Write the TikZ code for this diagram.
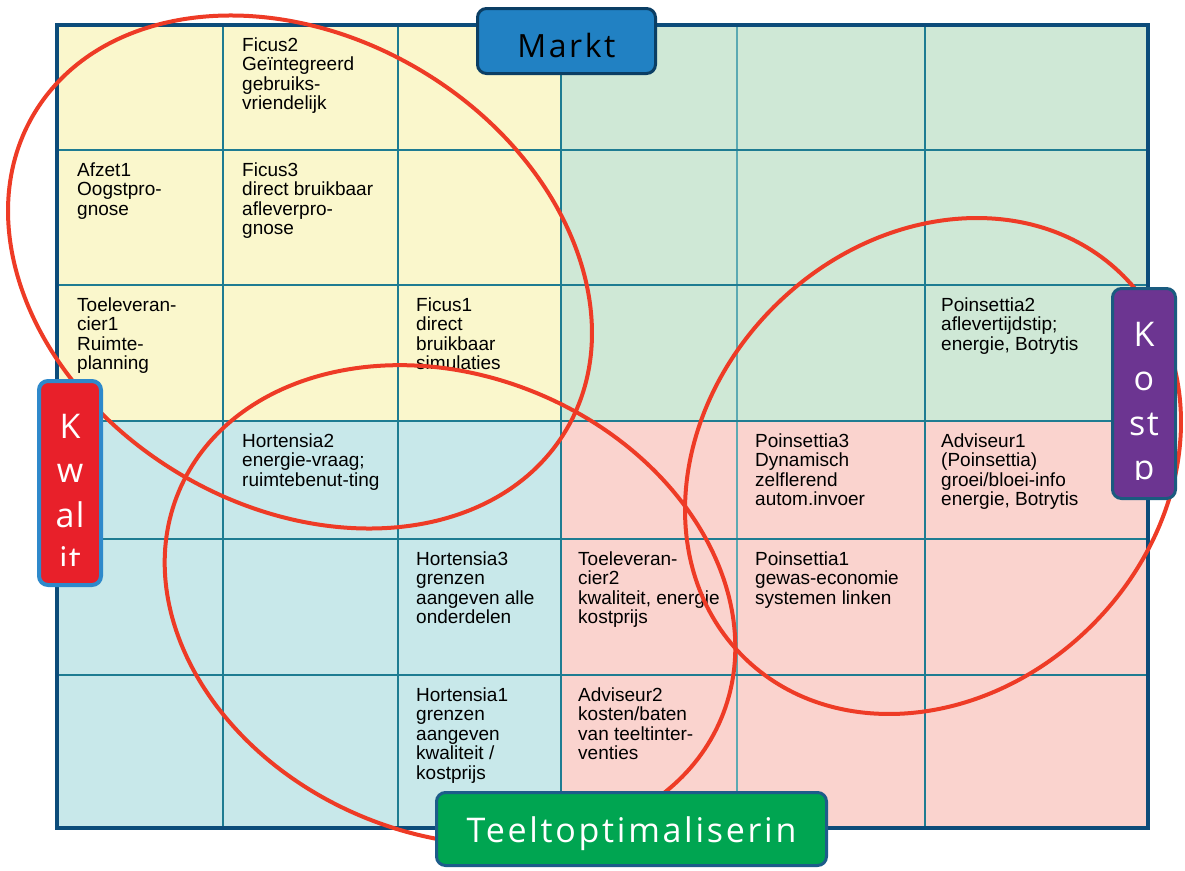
\documentclass[tikz,border=0pt]{standalone}
\usepackage{fontspec}
\setmainfont{Liberation Sans}
\newfontfamily\labelfont[LetterSpace=8]{Open Sans}
\newfontfamily\vfont[LetterSpace=4]{Open Sans}
\definecolor{cyel}{HTML}{FAF7CC}
\definecolor{cgrn}{HTML}{CFE8D6}
\definecolor{cblu}{HTML}{C8E8EA}
\definecolor{cpnk}{HTML}{FAD3CE}
\definecolor{gridteal}{HTML}{1E7C92}
\definecolor{gridlight}{HTML}{5BA9B2}
\definecolor{frameblue}{HTML}{0C4C7A}
\definecolor{ringred}{HTML}{EE3B26}
\definecolor{marktblue}{HTML}{2181C3}
\definecolor{marktedge}{HTML}{0B3E64}
\definecolor{kwalred}{HTML}{E8202A}
\definecolor{kwaledge}{HTML}{2E89CB}
\definecolor{kostpurple}{HTML}{6C3591}
\definecolor{kostedge}{HTML}{1A5B7F}
\definecolor{teeltgreen}{HTML}{00A551}
\definecolor{teeltedge}{HTML}{1D5C8A}
\newcommand\celltext[1]{\parbox[t]{230pt}{\raggedright\fontsize{19}{19.5}\selectfont #1}}
\newcommand\vcolumn[1]{\parbox[t]{62pt}{\centering\vfont\fontsize{34}{44.5}\selectfont #1}}
\tikzset{
  cellbox/.style={anchor=base west, inner sep=0pt, font=\fontsize{19}{19.5}\selectfont, text=black},
  gridline/.style={draw=gridteal, line width=2.5pt},
  ring/.style={draw=ringred, line width=4pt},
  tagbox/.style={rounded corners=9pt, line width=3pt, inner sep=0pt},
  vtext/.style={anchor=base, inner sep=0pt, text=white}
}
\begin{document}
\begin{tikzpicture}[x=1pt,y=-1pt]
\useasboundingbox (0,0) rectangle (1185,870);
\fill[white] (0,0) rectangle (1185,870);
% quadrant fills
\fill[cyel] (57,25) rectangle (561,421);
\fill[cgrn] (561,25) rectangle (1148,421);
\fill[cblu] (57,421) rectangle (561,828);
\fill[cpnk] (561,421) rectangle (1148,828);
% grid
\foreach \gx in {223,398,561,925} \draw[gridline] (\gx,25) -- (\gx,828);
\draw[gridline, draw=gridlight, line width=2pt] (737,25) -- (737,828);
\foreach \gy in {150,285,421,539,675} \draw[gridline] (57,\gy) -- (1148,\gy);
\draw[draw=frameblue, line width=4pt] (57,25) rectangle (1148,828);
% cell texts
\node[cellbox] (c12) at (242,51) {\celltext{Ficus2\\Geïntegreerd\\gebruiks-\\vriendelijk}};
\node[cellbox] (c21) at (77,176) {\celltext{Afzet1\\Oogstpro-\\gnose}};
\node[cellbox] (c22) at (242,176) {\celltext{Ficus3\\direct bruikbaar\\afleverpro-\\gnose}};
\node[cellbox] (c31) at (77,311) {\celltext{Toeleveran-\\cier1\\Ruimte-\\planning}};
\node[cellbox] (c33) at (416,311) {\celltext{Ficus1\\direct\\bruikbaar\\simulaties}};
\node[cellbox] (c36) at (941,311) {\celltext{Poinsettia2\\aflevertijdstip;\\energie, Botrytis}};
\node[cellbox] (c42) at (242,447) {\celltext{Hortensia2\\energie-vraag;\\ruimtebenut-ting}};
\node[cellbox] (c45) at (755,447) {\celltext{Poinsettia3\\Dynamisch\\zelflerend\\autom.invoer}};
\node[cellbox] (c46) at (941,447) {\celltext{Adviseur1\\(Poinsettia)\\groei/bloei-info\\energie, Botrytis}};
\node[cellbox] (c53) at (416,565) {\celltext{Hortensia3\\grenzen\\aangeven alle\\onderdelen}};
\node[cellbox] (c54) at (578,565) {\celltext{Toeleveran-\\cier2\\kwaliteit, energie\\kostprijs}};
\node[cellbox] (c55) at (755,565) {\celltext{Poinsettia1\\gewas-economie\\systemen linken}};
\node[cellbox] (c63) at (416,701) {\celltext{Hortensia1\\grenzen\\aangeven\\kwaliteit /\\kostprijs}};
\node[cellbox] (c64) at (578,701) {\celltext{Adviseur2\\kosten/baten\\van teeltinter-\\venties}};
% red rings
\draw[ring, rotate around={-30.7:(300,272)}] (300,272) ellipse [x radius=309.5pt, y radius=235pt];
\draw[ring, rotate around={-22.7:(450,605)}] (450,605) ellipse [x radius=294pt, y radius=229pt];
\draw[ring, rotate around={45:(933,466)}] (933,466) ellipse [x radius=269pt, y radius=225pt];
% label boxes
\node[tagbox, draw=marktedge, fill=marktblue, minimum width=178pt, minimum height=65pt,
      text height=32pt, text depth=0pt, font=\labelfont\fontsize{32}{32}\selectfont, text=black]
      (markt) at (566.5,41) {Markt};
\node[tagbox, draw=teeltedge, fill=teeltgreen, minimum width=390pt, minimum height=73pt,
      text height=26pt, text depth=0pt, font=\labelfont\fontsize{34}{34}\selectfont, text=white]
      (teelt) at (631.5,829) {Teeltoptimaliserin};
\node[tagbox, draw=kwaledge, line width=4pt, fill=kwalred, minimum width=62pt, minimum height=204pt]
      (kwal) at (70,483) {};
\begin{scope}
  \clip (39,381) rectangle (101,565);
  \node[vtext] (kwaltext) at (70,438) {\vcolumn{K\\w\\al\\it}};
\end{scope}
\node[tagbox, draw=kostedge, fill=kostpurple, minimum width=63pt, minimum height=210pt]
      (kost) at (1144,393.5) {};
\begin{scope}
  \clip (1113,290) rectangle (1175,479);
  \node[vtext] (kosttext) at (1144,346) {\vcolumn{K\\o\\st\\p}};
\end{scope}
\end{tikzpicture}
\end{document}
